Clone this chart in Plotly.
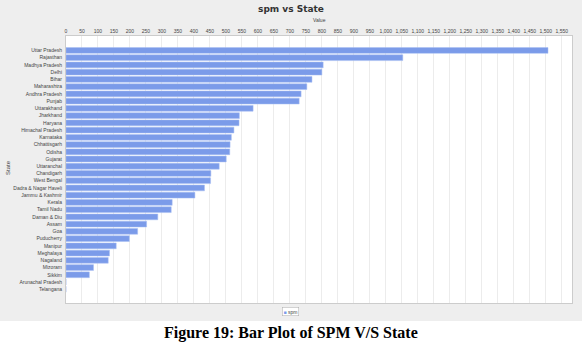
import plotly.graph_objects as go

states = ["Uttar Pradesh", "Rajasthan", "Madhya Pradesh", "Delhi", "Bihar", "Maharashtra",
          "Andhra Pradesh", "Punjab", "Uttarakhand", "Jharkhand", "Haryana", "Himachal Pradesh",
          "Karnataka", "Chhattisgarh", "Odisha", "Gujarat", "Uttaranchal", "Chandigarh",
          "West Bengal", "Dadra & Nagar Haveli", "Jammu & Kashmir", "Kerala", "Tamil Nadu",
          "Daman & Diu", "Assam", "Goa", "Puducherry", "Manipur", "Meghalaya", "Nagaland",
          "Mizoram", "Sikkim", "Arunachal Pradesh", "Telangana"]
spm = [1507, 1053, 804, 800, 769, 753, 735, 729, 585, 542, 541, 525, 517, 513, 512, 501,
       479, 453, 452, 433, 403, 332, 329, 287, 252, 224, 198, 157, 136, 132, 86, 73, 0, 0]
tick_vals = list(range(0, 1551, 50))
tick_text = [f"{v:,}" for v in tick_vals]

W, H = 582, 351
L, R, T, B = 66, 10, 36, 48
PW, PH = W - L - R, H - T - B
n = len(states)
BAR_COLOR = "#7b9be9"


def px(x):
    return (x - L) / PW


def py(y):
    return (H - B - y) / PH


fig = go.Figure(go.Bar(
    x=spm, y=states, orientation="h", name="spm",
    marker=dict(color=BAR_COLOR, line=dict(color="#a9bff2", width=0.5)),
))

fig.update_layout(
    width=W, height=H,
    margin=dict(l=L, r=R, t=T, b=B, autoexpand=False),
    paper_bgcolor="#eeeeee",
    plot_bgcolor="white",
    bargap=0.2,
    showlegend=False,
    font=dict(family="Liberation Sans, Arial, sans-serif", size=5, color="#333333"),
    title=dict(text="<b>spm vs State</b>", x=0.5, xref="container", xanchor="center",
               y=1 - 9 / H, yref="container", yanchor="middle",
               font=dict(family="DejaVu Sans", size=9, color="#333333")),
    xaxis=dict(side="top", range=[0, 1582], tickvals=tick_vals, ticktext=tick_text,
               showgrid=True, gridcolor="#ececec", gridwidth=1, zeroline=False,
               showline=True, linecolor="#cccccc", mirror=True, ticks="",
               tickfont=dict(size=5, color="#444444")),
    yaxis=dict(autorange=False, range=[n - 1 + 1.9, -2.0], showgrid=False,
               showline=True, linecolor="#cccccc", mirror=True, ticks="",
               tickfont=dict(size=5, color="#444444"), ticklabelstandoff=2),
    shapes=[dict(type="rect", xref="paper", yref="paper",
                 x0=px(-5), x1=px(W + 5), y0=py(H + 5), y1=py(321),
                 fillcolor="white", line=dict(width=0), layer="below")],
    annotations=[
        dict(text="Value", xref="paper", yref="paper", x=0.5, y=py(20),
             showarrow=False, font=dict(size=5, color="#444444"),
             xanchor="center", yanchor="middle"),
        dict(text="State", xref="paper", yref="paper", x=px(8), y=py(168),
             textangle=-90, showarrow=False, font=dict(size=6, color="#444444"),
             xanchor="center", yanchor="middle"),
        dict(text=f"<span style='color:{BAR_COLOR}'>■</span> spm", xref="paper", yref="paper",
             x=px(290), y=py(311), xanchor="center", yanchor="middle", showarrow=False,
             font=dict(size=5, color="#444444"), bgcolor="white",
             bordercolor="#aaaaaa", borderwidth=0.5, borderpad=1),
        dict(text="<b>Figure 19: Bar Plot of SPM V/S State</b>", xref="paper", yref="paper",
             x=px(W / 2), y=py(333), xanchor="center", yanchor="middle", showarrow=False,
             font=dict(family="Liberation Serif, Times New Roman, serif", size=16, color="black")),
    ],
)

fig.write_html("out.html")
